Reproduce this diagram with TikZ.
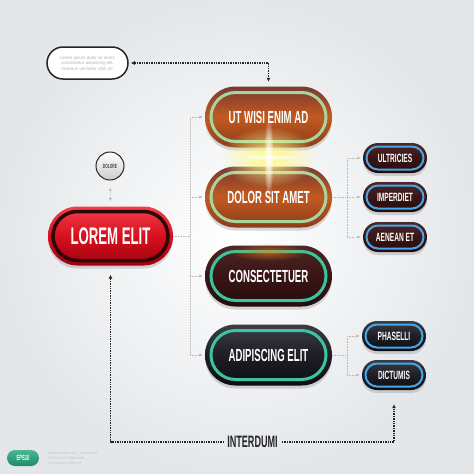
\documentclass[tikz,border=0pt]{standalone}
\usepackage{fontspec}
\setmainfont{Liberation Sans}
\newfontfamily\condfont{Liberation Sans}[FakeStretch=0.55]
\usetikzlibrary{shapes.misc,arrows.meta,shadows,fadings,calc}

\definecolor{bgout}{HTML}{E4E7EA}
\definecolor{redtop}{HTML}{F0404A}
\definecolor{redmid}{HTML}{D8101E}
\definecolor{redbot}{HTML}{A0000E}
\definecolor{redring}{HTML}{2E0606}
\definecolor{ortop}{HTML}{783A34}
\definecolor{ormid}{HTML}{C25A1E}
\definecolor{orbot}{HTML}{8C3C1C}
\definecolor{lightgreen}{HTML}{A6D6A0}
\definecolor{teal}{HTML}{3CC49E}
\definecolor{brtop}{HTML}{4E2626}
\definecolor{brmid}{HTML}{3A1515}
\definecolor{brbot}{HTML}{240C0C}
\definecolor{bktop}{HTML}{3C3C46}
\definecolor{bkmid}{HTML}{1E1E26}
\definecolor{bkbot}{HTML}{0C0C12}
\definecolor{skyblue}{HTML}{46A6E8}
\definecolor{epsgreen}{HTML}{1FA678}

\tikzfading[name=glowfade, inner color=transparent!0, outer color=transparent!100]

\begin{document}
\begin{tikzpicture}[x=1pt,y=-1pt,
    pill/.style={rounded rectangle, inner sep=0pt, text=white,
        drop shadow={opacity=0.3, shadow xshift=0pt, shadow yshift=-3pt}},
    ring/.style n args={4}{path picture={
        \draw[#1, line width=#2, rounded corners=#4]
          ($(path picture bounding box.north west)+(#3,-#3)$) rectangle
          ($(path picture bounding box.south east)+(-#3,#3)$);}},
    bigbtn/.style={pill, minimum width=127, minimum height=61,
        font=\condfont\bfseries\fontsize{17.5}{17.5}\selectfont},
    smallbtn/.style={pill, minimum width=64, minimum height=30,
        font=\condfont\bfseries\fontsize{12}{12}\selectfont,
        ring={skyblue}{2pt}{3.5pt}{11.5pt}},
    orangefill/.style={top color=ortop, bottom color=orbot, middle color=ormid,
        ring={lightgreen}{3pt}{6pt}{24.5pt}},
    brownfill/.style={top color=brtop, bottom color=brbot, middle color=brmid},
    blackfill/.style={top color=bktop, bottom color=bkbot, middle color=bkmid},
    link/.style={draw=gray!55, line width=0.6pt, densely dotted},
    tip/.style={-{Latex[length=3.5pt,width=3pt]}},
    bigdots/.style={draw=black!85, line width=1.4pt, densely dotted}
  ]
\useasboundingbox (0,0) rectangle (474,474);
% background
\shade[inner color=white, outer color=bgout] (0,0) rectangle (474,474);

% note and dolore
\node[rounded rectangle, draw=black!85, line width=1.5pt, fill=white,
      minimum width=81, minimum height=32, inner sep=0pt, align=center,
      text=gray!60, font=\fontsize{4.5}{5.4}\selectfont] (note) at (87.5,63)
      {Lorem ipsum dolor sit amet,\\consectetur adipiscing elit.\\Vivamus vel tortor nibh mi.};
\node[circle, draw=black!85, line width=1pt, top color=white, bottom color=gray!40,
      minimum size=28, inner sep=0pt, text=black!75,
      font=\condfont\bfseries\fontsize{6}{6}\selectfont] (dolore) at (110,166) {DOLORE};

% main button
\node[pill, minimum width=125, minimum height=59,
      top color=redtop, bottom color=redbot, middle color=redmid,
      ring={redring}{3.5pt}{5pt}{24.5pt},
      font=\condfont\bfseries\fontsize{24}{24}\selectfont] (lorem) at (110.5,236) {LOREM ELIT};

% middle column
\node[bigbtn, orangefill] (ut) at (268.5,117) {UT WISI ENIM AD};
\node[bigbtn, orangefill] (dolor) at (268.5,197) {DOLOR SIT AMET};
\node[bigbtn, brownfill, ring={teal}{3pt}{6pt}{24.5pt}] (consec) at (268.5,276) {CONSECTETUER};
\node[bigbtn, blackfill, ring={teal}{3pt}{6pt}{24.5pt}] (adip) at (268.5,355) {ADIPISCING ELIT};

% glow
\fill[yellow!45!white, path fading=glowfade] (268.5,157) ellipse (48 and 30);
\fill[white, path fading=glowfade] (268.5,157) ellipse (5 and 42);
\fill[white, path fading=glowfade] (268.5,157) ellipse (34 and 3);
\fill[orange!70!brown, opacity=0.6, path fading=glowfade] (268.5,252) ellipse (40 and 9);

% right column
\node[smallbtn, brownfill] (ultr) at (395,158) {ULTRICIES};
\node[smallbtn, brownfill] (imper) at (395,197) {IMPERDIET};
\node[smallbtn, brownfill] (aenean) at (395,237) {AENEAN ET};
\node[smallbtn, blackfill] (phas) at (394,336) {PHASELLI};
\node[smallbtn, blackfill] (dict) at (394,375) {DICTUMIS};

% gray connections
\coordinate (trunkA) at (190,236);
\coordinate (trunkB) at (347,197);
\coordinate (trunkC) at (347,355);
\draw[link, {Latex[length=3.5pt,width=3pt]}-{Latex[length=3.5pt,width=3pt]},
      shorten <=7pt, shorten >=5pt] (dolore.south) -- (lorem.north);
\draw[link] (lorem.east) -- (trunkA);
\draw[link] (trunkA |- ut) -- (trunkA |- adip);
\foreach \n in {ut,dolor,consec,adip}
  \draw[link, tip, shorten >=2pt] (trunkA |- \n) -- (\n.west);
\draw[link] (dolor.east) -- (trunkB);
\draw[link] (trunkB |- ultr) -- (trunkB |- aenean);
\foreach \n in {ultr,imper,aenean}
  \draw[link, tip, shorten >=2pt] (trunkB |- \n) -- (\n.west);
\draw[link] (adip.east) -- (trunkC);
\draw[link] (trunkC |- phas) -- (trunkC |- dict);
\foreach \n in {phas,dict}
  \draw[link, tip, shorten >=2pt] (trunkC |- \n) -- (\n.west);

% black dotted connections
\node[inner sep=4pt, text=black!85,
      font=\condfont\bfseries\fontsize{16.5}{16.5}\selectfont] (inter) at (252.5,442) {INTERDUMI};
\coordinate (turn) at (note.east -| ut.north);
\coordinate (cornerL) at (lorem.south |- inter.center);
\coordinate (cornerR) at (inter.center -| dict.south);
\draw[bigdots, {Latex[length=4pt,width=4pt]}-{Latex[length=4pt,width=4pt]},
      shorten <=2pt, shorten >=4.5pt] (note.east) -- (turn) -- (ut.north);
\draw[bigdots, {Latex[length=4pt,width=4pt]}-, shorten <=9pt]
      (lorem.south) -- (cornerL) -- (inter.west);
\draw[bigdots, -{Latex[length=4pt,width=4pt]}, shorten >=14pt]
      (inter.east) -- (cornerR) -- (dict.south);

% eps badge
\node[rounded rectangle, top color=epsgreen!80!white, bottom color=epsgreen!85!black,
      minimum width=32, minimum height=16, inner sep=0pt, text=white,
      font=\condfont\bfseries\fontsize{7.5}{7.5}\selectfont] (eps) at (23,458) {EPS10};
\node[anchor=west, align=left, text=gray!45, inner sep=0pt,
      font=\fontsize{4}{5}\selectfont] (epsinfo) at (48,458)
      {Neque dignissim, maecenas\\sollicitudin imperdiet\\habitasse morbi et};
\end{tikzpicture}
\end{document}
